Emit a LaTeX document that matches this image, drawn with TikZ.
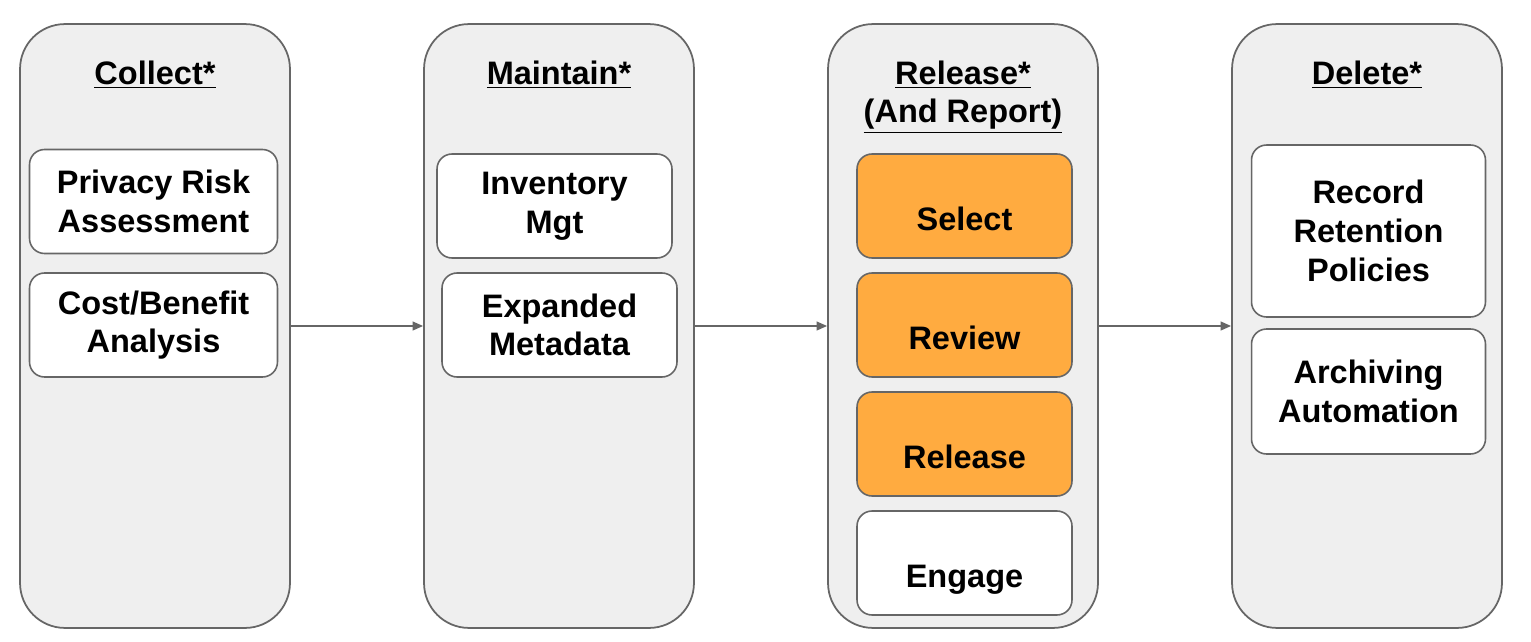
\documentclass[tikz,border=0pt]{standalone}
\usepackage{fontspec}
\setmainfont{Liberation Sans}
\usetikzlibrary{arrows.meta}
\definecolor{panelgray}{HTML}{EFEFEF}
\definecolor{edgegray}{HTML}{666666}
\definecolor{steporange}{HTML}{FFAB40}
\begin{document}
\begin{tikzpicture}[x=0.02cm,y=-0.02cm]
\tikzset{every node/.style={font=\bfseries\fontsize{18.5}{22}\selectfont, align=center, inner sep=0pt},
  phase/.style={draw=edgegray, fill=panelgray, line width=1pt, rounded corners=0.9cm,
    minimum width=5.4cm, minimum height=12.08cm},
  task/.style={draw=edgegray, fill=white, line width=0.9pt, rounded corners=0.3cm, minimum height=2.08cm},
  hot/.style={task, fill=steporange},
  lowtext/.style={text height=31pt, text depth=3pt},
  title/.style={anchor=base},
  flow/.style={draw=edgegray, line width=1pt, -{Triangle[length=6pt,width=5pt]}}}
\useasboundingbox (0,0) rectangle (1531,642);
% the four phases
\node [phase] (collect) at (155,326) {};
\node [phase] (maintain) at (559,326) {};
\node [phase] (release) at (963,326) {};
\node [phase] (delete) at (1367,326) {};
\node [title] (tcollect) at (155,85) {\underline{Collect*}};
\node [title] (tmaintain) at (559,85) {\underline{Maintain*}};
\node [title] (trelease) at (963,123) {\underline{Release*}\\\underline{(And Report)}};
\node [title] (tdelete) at (1367,85) {\underline{Delete*}};
% collect
\node [task, minimum width=4.96cm] (pra) at (153.5,201.5) {Privacy Risk\\Assessment};
\node [task, minimum width=4.96cm] (cba) at (153.5,325) {Cost/Benefit\\Analysis};
% maintain
\node [task, minimum width=4.7cm] (inv) at (554.5,206) {Inventory\\Mgt};
\node [task, minimum width=4.7cm] (meta) at (559.5,325) {Expanded\\Metadata};
% release
\node [hot, lowtext, minimum width=4.3cm] (sel) at (964.5,206) {Select};
\node [hot, lowtext, minimum width=4.3cm] (rev) at (964.5,325) {Review};
\node [hot, lowtext, minimum width=4.3cm] (rel) at (964.5,444) {Release};
\node [task, lowtext, minimum width=4.3cm] (eng) at (964.5,563) {Engage};
% delete
\node [task, minimum width=4.68cm, minimum height=3.44cm] (rrp) at (1368.5,231) {Record\\Retention\\Policies};
\node [task, minimum width=4.68cm, minimum height=2.5cm] (arch) at (1368.5,391.5) {Archiving\\Automation};
% arrows between phases
\draw [flow] (collect) -- (maintain);
\draw [flow] (maintain) -- (release);
\draw [flow] (release) -- (delete);
\end{tikzpicture}
\end{document}
